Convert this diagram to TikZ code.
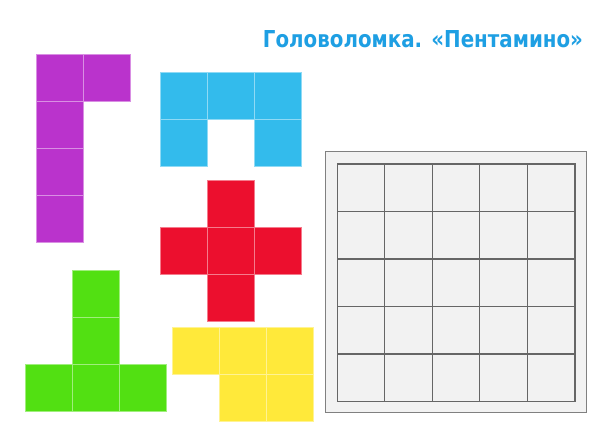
\documentclass[tikz,border=0pt]{standalone}
\usepackage{fontspec}
\newfontfamily\titlefont{DejaVu Sans}
\definecolor{pviolet}{HTML}{BA33CC}
\definecolor{pblue}{HTML}{33BBEC}
\definecolor{pred}{HTML}{EC0F2E}
\definecolor{pgreen}{HTML}{52E012}
\definecolor{pyellow}{HTML}{FFE93A}
\definecolor{tblue}{HTML}{1E9FE3}
\definecolor{boardfill}{HTML}{F2F2F2}
\definecolor{boardframe}{HTML}{808080}
\definecolor{boardline}{HTML}{666666}
\newcommand\pentocells[4]{%
  \foreach \cx/\cy in {#4}{%
    \fill[#1] ({#2+\cx*47},{#3+\cy*47}) rectangle ++(47,47);
    \draw[#1!55!white, line width=0.6pt] ({#2+\cx*47},{#3+\cy*47}) rectangle ++(47,47);
  }%
}
\begin{document}
\begin{tikzpicture}[x=1pt,y=-1pt,
  titlestyle/.style={inner sep=0pt, text=tblue, font=\titlefont\bfseries},
  boardgrid/.style={boardline, line width=1.1pt}]
\useasboundingbox[fill=white] (0,0) rectangle (608,421);
% title
\node[titlestyle] (title) at (423,39) {\resizebox{320pt}{17pt}{Головоломка. «Пентамино»}};
% pieces
\pentocells{pviolet}{36.7}{54.3}{0/0,1/0,0/1,0/2,0/3}
\pentocells{pblue}{160}{72.7}{0/0,1/0,2/0,0/1,2/1}
\pentocells{pred}{160}{180.7}{1/0,0/1,1/1,2/1,1/2}
\pentocells{pgreen}{25.7}{270.7}{1/0,1/1,0/2,1/2,2/2}
\pentocells{pyellow}{172.3}{327.7}{0/0,1/0,2/0,1/1,2/1}
% board
\draw[boardframe, fill=boardfill, line width=1.1pt] (325.7,151.7) rectangle (586.7,412.7);
\foreach \i in {1,2,3,4}{
  \draw[boardgrid] ({337.3+\i*47.5},164) -- ({337.3+\i*47.5},401.5);
  \draw[boardgrid] (337.3,{164+\i*47.5}) -- (575,{164+\i*47.5});
}
\draw[boardgrid] (337.3,164) rectangle (575,401.5);
\end{tikzpicture}
\end{document}
